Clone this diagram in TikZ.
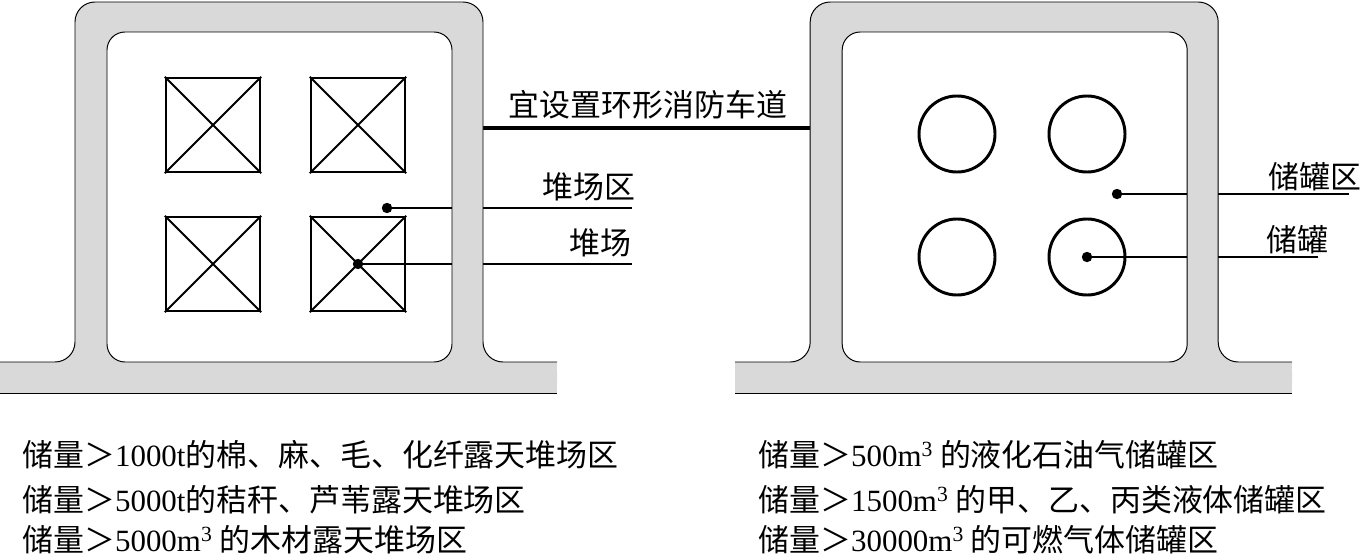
\documentclass[tikz,border=0pt]{standalone}
\usepackage{fontspec}
\setmainfont{Liberation Serif}
\newfontfamily\cjk{Noto Sans CJK SC}
\usetikzlibrary{positioning}
\newcommand\lat[1]{{\rmfamily #1}}
\tikzset{road/.style={fill=black!15},
  edge/.style={line width=0.7pt},
  pile/.style={draw,line width=1.6pt,minimum size=2.35cm,inner sep=0pt},
  tank/.style={draw,circle,line width=2.1pt,minimum size=1.9cm,inner sep=0pt},
  dot/.style={circle,fill,inner sep=0pt,minimum size=0.26cm},
  lead/.style={line width=1.3pt},
  lane/.style={line width=2.4pt},
  lbl/.style={font=\cjk\fontsize{22}{26}\selectfont,inner sep=0pt}}

\begin{document}
\begin{tikzpicture}[x=0.025cm,y=-0.025cm]
\useasboundingbox (0,0) rectangle (1362,558);
\foreach \i/\x/\y in {1/213/125,2/358/125,3/213/264,4/358/264}{
  \node[pile] (p\i) at (\x,\y) {};
  \draw[line width=1.4pt] (p\i.north west)--(p\i.south east) (p\i.north east)--(p\i.south west);}
\foreach \i/\x/\y in {1/957/134,2/1087/134,3/957/257,4/1087/257}
  \node[tank] (t\i) at (\x,\y) {};
\node[dot] (d1) at (387,208) {};
\node[dot] (d2) at (p4) {};
\node[dot] (d3) at (1117,194) {};
\node[dot] (d4) at (t4) {};
\coordinate (e1) at (632,208);
\coordinate (e2) at (632,264);
\coordinate (e3) at (1349,194);
\coordinate (e4) at (1318,257);
\coordinate (r1) at (483,128);
\coordinate (r2) at (810,128);
\draw[lead] (d1) -- (e1);
\draw[lead] (d2) -- (e2);
\draw[lead] (d3) -- (e3);
\draw[lead] (d4) -- (e4);
\draw[lane] (r1) -- (r2);
\foreach \sx in {0,18.375}{
 \begin{scope}[xshift=\sx cm]
  \fill[road,even odd rule,rounded corners=0.5cm] (0,362) -- (75,362) -- (75,2) -- (483,2) -- (483,362) -- (557,362) -- (557,393) -- (0,393) -- cycle
    [rounded corners=0.45cm] (107,32) rectangle (452,362);
  \fill[road] (0,362) rectangle (557,393);
  \draw[edge,rounded corners=0.5cm] (0,362) -- (75,362) -- (75,2) -- (483,2) -- (483,362) -- (557,362);
  \draw[edge] (0,393) -- (557,393);
  \draw[edge,rounded corners=0.45cm] (107,32) rectangle (452,362);
 \end{scope}}
\node[lbl] (l0) at (648,105) {宜设置环形消防车道};
\node[lbl] (l1) at (589,187) {堆场区};
\node[lbl] (l2) at (600,243) {堆场};
\node[lbl] (l3) at (1315,177) {储罐区};
\node[lbl] (l4) at (1297,240) {储罐};
\node[lbl,anchor=west] (n1) at (22,455) {储量＞\lat{1000t}的棉、麻、毛、化纤露天堆场区};
\node[lbl,anchor=west] (n2) at (22,500) {储量＞\lat{5000t}的秸秆、芦苇露天堆场区};
\node[lbl,anchor=west] (n3) at (22,540) {储量＞\lat{5000m\textsuperscript{3}} 的木材露天堆场区};
\node[lbl,anchor=west] (n4) at (758,455) {储量＞\lat{500m\textsuperscript{3}} 的液化石油气储罐区};
\node[lbl,anchor=west] (n5) at (758,500) {储量＞\lat{1500m\textsuperscript{3}} 的甲、乙、丙类液体储罐区};
\node[lbl,anchor=west] (n6) at (758,540) {储量＞\lat{30000m\textsuperscript{3}} 的可燃气体储罐区};
\end{tikzpicture}
\end{document}
